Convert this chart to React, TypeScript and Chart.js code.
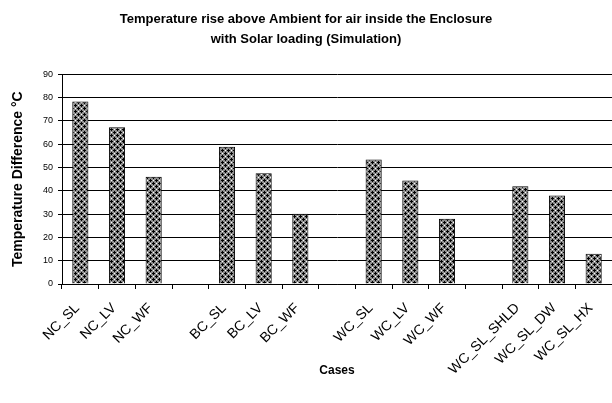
import React, { useEffect, useRef } from "react";
import { Chart, registerables } from "chart.js";

Chart.register(...registerables);

const categories = [
  "NC_SL", "NC_LV", "NC_WF", "",
  "BC_SL", "BC_LV", "BC_WF", "",
  "WC_SL", "WC_LV", "WC_WF", "",
  "WC_SL_SHLD", "WC_SL_DW", "WC_SL_HX",
];
const tempRise: (number | null)[] = [
  78.3, 67.3, 46, null,
  58.9, 47.5, 30.2, null,
  53.4, 44.4, 28, null,
  42, 38, 13,
];
const yTicks = { min: 0, max: 90, step: 10 };
const titleLines = [
  "Temperature rise above Ambient for air inside the Enclosure",
  "with Solar loading (Simulation)",
];
const xTitle = "Cases";
const yTitle = "Temperature Difference \u00B0C";

const FONT = "'Liberation Sans', Arial, Helvetica, sans-serif";

function makePattern(): CanvasPattern | string {
  const c = document.createElement("canvas");
  c.width = 6;
  c.height = 6;
  const g = c.getContext("2d");
  if (!g) return "#777";
  g.fillStyle = "#8e8e8e";
  g.fillRect(0, 0, 6, 6);
  g.fillStyle = "#000";
  const black = [
    [0, 0], [1, 0], [5, 0], [0, 1], [0, 5],
    [3, 3], [2, 3], [4, 3], [3, 2], [3, 4],
  ];
  black.forEach(([x, y]) => g.fillRect(x, y, 1, 1));
  g.fillStyle = "#fff";
  [[3, 0], [0, 3]].forEach(([x, y]) => g.fillRect(x, y, 1, 1));
  const p = g.createPattern(c, "repeat");
  return p || "#777";
}

export default function App() {
  const ref = useRef<HTMLCanvasElement | null>(null);
  useEffect(() => {
    if (!ref.current) return;
    const pattern = makePattern();
    const chart = new Chart(ref.current, {
      type: "bar",
      data: {
        labels: categories,
        datasets: [
          {
            data: tempRise,
            backgroundColor: pattern as any,
            borderColor: "#000",
            borderWidth: 1,
            categoryPercentage: 1,
            barPercentage: 0.44,
          },
        ],
      },
      options: {
        responsive: false,
        animation: false,
        devicePixelRatio: 1,
        layout: { padding: { left: 0, right: 0, top: 0, bottom: 0 } },
        plugins: {
          legend: { display: false },
          tooltip: { enabled: false },
          title: {
            display: true,
            text: titleLines,
            color: "#000",
            font: { family: FONT, size: 13, weight: "bold", lineHeight: 1.55 },
            padding: { top: 9, bottom: 25 },
          },
        },
        scales: {
          x: {
            grid: {
              display: true,
              drawOnChartArea: false,
              drawTicks: true,
              tickLength: 5,
              offset: true,
              color: "#000",
            },
            border: { display: true, color: "#000", width: 1 },
            ticks: {
              autoSkip: false,
              minRotation: 45,
              maxRotation: 45,
              color: "#000",
              font: { family: FONT, size: 14 },
              padding: 11,
              labelOffset: -3,
            },
            title: {
              display: true,
              text: xTitle,
              color: "#000",
              font: { family: FONT, size: 12, weight: "bold" },
              padding: { top: 4, bottom: 25 },
            },
            afterFit: (scale: any) => {
              scale.height = 119;
              scale.paddingLeft = 0;
              scale.paddingRight = 0;
            },
          },
          y: {
            min: yTicks.min,
            max: yTicks.max,
            grid: {
              color: "#000",
              lineWidth: 1,
              tickLength: 4,
              drawTicks: true,
            },
            border: { display: true, color: "#000", width: 1 },
            ticks: {
              stepSize: yTicks.step,
              color: "#000",
              font: { family: FONT, size: 9 },
              padding: 5,
            },
            title: {
              display: true,
              text: yTitle,
              color: "#000",
              font: { family: FONT, size: 14, weight: "bold" },
              padding: { top: 10, bottom: 0 },
            },
            afterFit: (scale: any) => {
              scale.width = 62;
            },
          },
        },
      },
    });
    return () => chart.destroy();
  }, []);
  return (
    <div style={{ position: "absolute", left: 0, top: 0, width: 612, height: 403, background: "#fff" }}>
      <canvas ref={ref} width={612} height={403} style={{ display: "block", width: 612, height: 403 }} />
    </div>
  );
}
